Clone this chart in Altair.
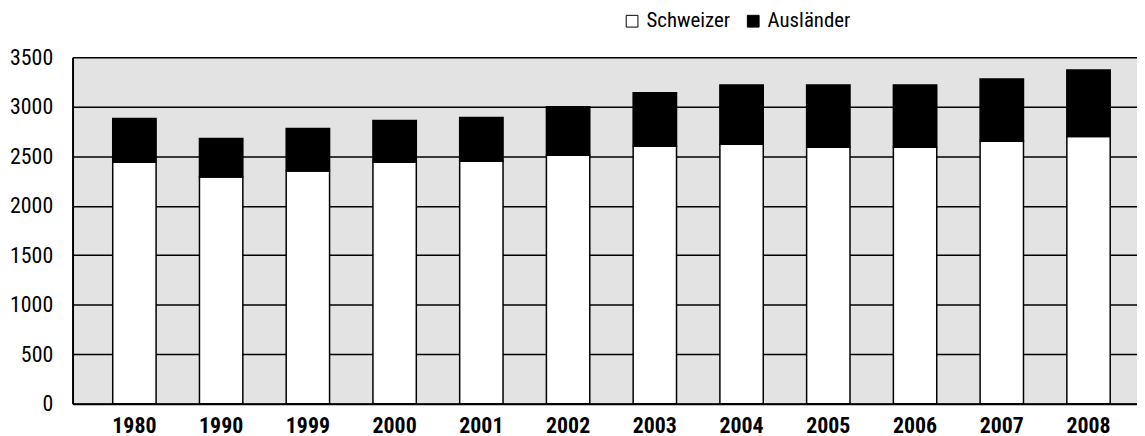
import altair as alt
import pandas as pd

years = ["1980", "1990", "1999", "2000", "2001", "2002", "2003", "2004", "2005", "2006", "2007", "2008"]
schweizer = [2440, 2290, 2350, 2440, 2450, 2510, 2600, 2620, 2590, 2590, 2650, 2700]
auslaender = [440, 390, 430, 420, 440, 490, 540, 600, 630, 630, 630, 670]
series = ["Schweizer", "Ausländer"]

rows = []
for y, s, a in zip(years, schweizer, auslaender):
    rows.append({"Jahr": y, "Gruppe": series[0], "Wert": s, "ord": 0})
    rows.append({"Jahr": y, "Gruppe": series[1], "Wert": a, "ord": 1})
df = pd.DataFrame(rows)

FONT = "Liberation Sans Narrow, Roboto Condensed, DejaVu Sans Condensed, Arial"

chart = alt.Chart(df).mark_bar(stroke="black", strokeWidth=1.5).encode(
    x=alt.X("Jahr:N", sort=years, title=None,
            scale=alt.Scale(paddingInner=0.5, paddingOuter=0.386, align=0.6, round=False),
            axis=alt.Axis(labelAngle=0, labelFontWeight="bold", labelFontSize=22,
                          labelFont=FONT, labelColor="black", ticks=False,
                          labelPadding=12, domainColor="black", domainWidth=2)),
    y=alt.Y("Wert:Q", stack="zero", title=None,
            scale=alt.Scale(domain=[0, 3500], nice=False),
            axis=alt.Axis(values=[0, 500, 1000, 1500, 2000, 2500, 3000, 3500],
                          format="d",
                          labelFontSize=22, labelFont=FONT, labelColor="black",
                          ticks=False, labelPadding=20, grid=True,
                          gridColor="black", gridWidth=1.5, gridOpacity=1,
                          domainColor="black", domainWidth=2)),
    fill=alt.Fill("Gruppe:N", sort=series,
                  scale=alt.Scale(domain=series, range=["white", "black"]),
                  legend=alt.Legend(title=None, orient="none", direction="horizontal",
                                    legendX=553, legendY=-47, symbolType="square",
                                    symbolSize=140, symbolStrokeColor="black",
                                    symbolStrokeWidth=1, labelFontSize=21,
                                    labelFont=FONT, labelColor="black",
                                    columnPadding=12, labelOffset=4)),
    order=alt.Order("ord:Q"),
).properties(
    width=1072, height=349,
    autosize=alt.AutoSizeParams(type="none"),
    padding={"left": 65, "top": 48, "right": 0, "bottom": 40},
    view=alt.ViewBackground(fill="#e3e3e3", stroke=None),
).configure(background="white")

chart.save("out.html", embed_options={"renderer": "svg", "actions": False})
